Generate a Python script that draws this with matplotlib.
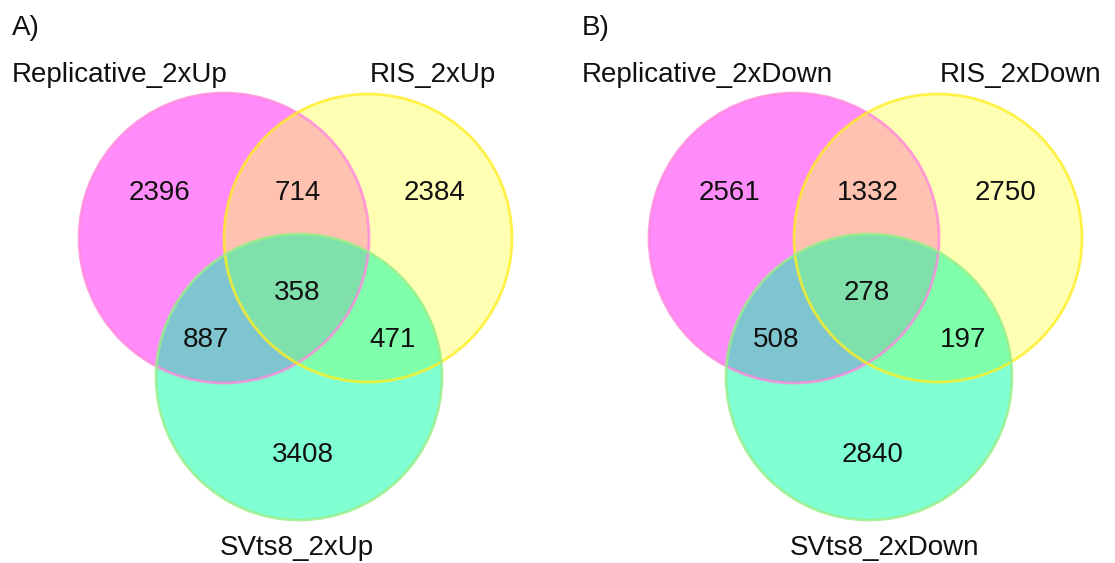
import numpy as np
import matplotlib.pyplot as plt
from matplotlib.patches import Circle

plt.rcParams['font.family'] = ['Liberation Sans', 'DejaVu Sans']

# region order: only A, A&B, only B, A&B&C, A&C, B&C, only C
panels = ['A)', 'B)']
set_names_a = ['Replicative_2xUp', 'RIS_2xUp', 'SVts8_2xUp']
set_names_b = ['Replicative_2xDown', 'RIS_2xDown', 'SVts8_2xDown']
counts_a = [2396, 714, 2384, 358, 887, 471, 3408]
counts_b = [2561, 1332, 2750, 278, 508, 197, 2840]

# layout in pixels, relative to the left panel
offsets = [0, 570]
centers = [(224, 238), (368, 238), (299, 377)]
radii = [145, 144, 143]
fills = [((1.0, 0.0, 0.96), 0.45), ((1.0, 1.0, 0.39), 0.48), ((0.0, 1.0, 0.65), 0.5)]
edges = ['#ff88dd', '#ffee22', '#99ee88']
num_pos = [(160, 193), (298, 193), (435, 193), (297, 293),
           (206, 340), (393, 340), (303, 455)]
name_pos = [(12, 75), (370, 75), (220, 548)]

fig = plt.figure(figsize=(11.15, 5.63), dpi=100)
ax = fig.add_axes([0, 0, 1, 1])
ax.set_xlim(0, 1115)
ax.set_ylim(563, 0)
ax.set_aspect('equal')
ax.axis('off')

for k, (title, names, counts) in enumerate(zip(panels, [set_names_a, set_names_b],
                                               [counts_a, counts_b])):
    dx = offsets[k]
    for (cx, cy), r, (col, a) in zip(centers, radii, fills):
        ax.add_patch(Circle((cx + dx, cy), r, facecolor=col, alpha=a,
                            edgecolor='none'))
    for (cx, cy), r, ec in zip(centers, radii, edges):
        ax.add_patch(Circle((cx + dx, cy), r, facecolor='none',
                            edgecolor=ec, lw=2, alpha=0.8))
    for (x, y), n in zip(num_pos, counts):
        ax.text(x + dx, y, str(n), ha='center', va='center', fontsize=20,
                color='#111111')
    for (x, y), s in zip(name_pos, names):
        ax.text(x + dx, y, s, ha='left', va='center', fontsize=20,
                color='#111111')
    ax.text(12 + dx, 28, title, ha='left', va='center', fontsize=20,
            color='#111111')

fig.savefig('out.png', dpi=100)
